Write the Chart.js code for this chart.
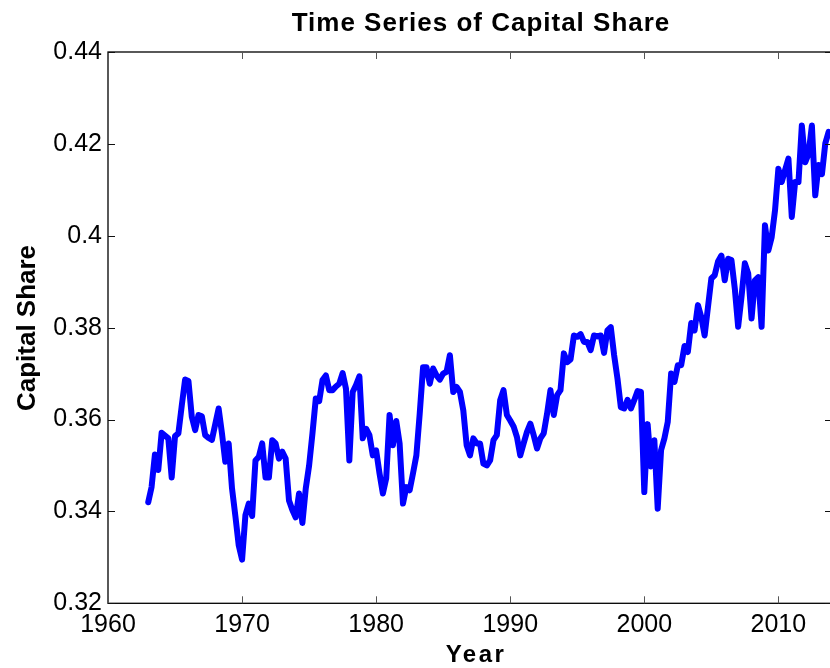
<!DOCTYPE html>
<html>
<head>
<meta charset="utf-8">
<script src="https://cdn.jsdelivr.net/npm/chart.js@4.4.1/dist/chart.umd.min.js"></script>
<style>
  html, body { margin: 0; padding: 0; background: #fff; overflow: hidden; }
  #wrap { position: absolute; left: 0; top: 0; width: 832px; height: 668px; }
</style>
</head>
<body>
<div id="wrap"><canvas id="chart" width="832" height="668"></canvas></div>
<script>
// quarterly capital share, one row per year (Q1..Q4)
const years = [
  1963, 1964, 1965, 1966, 1967, 1968, 1969, 1970, 1971, 1972,
  1973, 1974, 1975, 1976, 1977, 1978, 1979, 1980, 1981, 1982,
  1983, 1984, 1985, 1986, 1987, 1988, 1989, 1990, 1991, 1992,
  1993, 1994, 1995, 1996, 1997, 1998, 1999, 2000, 2001, 2002,
  2003, 2004, 2005, 2006, 2007, 2008, 2009, 2010, 2011, 2012, 2013
];
const quarters = ["Q1", "Q2", "Q3", "Q4"];
const capitalShare = [
  [0.3420, 0.3453, 0.3524, 0.3490], // 1963
  [0.3571, 0.3565, 0.3559, 0.3474],
  [0.3564, 0.3570, 0.3630, 0.3687],
  [0.3684, 0.3606, 0.3577, 0.3610],
  [0.3607, 0.3566, 0.3560, 0.3556],
  [0.3590, 0.3624, 0.3570, 0.3508],
  [0.3548, 0.3450, 0.3390, 0.3326],
  [0.3295, 0.3392, 0.3417, 0.3390], // 1970
  [0.3511, 0.3519, 0.3548, 0.3474],
  [0.3474, 0.3555, 0.3548, 0.3515],
  [0.3530, 0.3515, 0.3424, 0.3403],
  [0.3387, 0.3439, 0.3375, 0.3450],
  [0.3500, 0.3570, 0.3646, 0.3640],
  [0.3686, 0.3696, 0.3664, 0.3664],
  [0.3672, 0.3678, 0.3701, 0.3667],
  [0.3511, 0.3660, 0.3675, 0.3694],
  [0.3559, 0.3580, 0.3566, 0.3522],
  [0.3533, 0.3483, 0.3439, 0.3472], // 1980
  [0.3610, 0.3544, 0.3597, 0.3548],
  [0.3417, 0.3453, 0.3446, 0.3483],
  [0.3522, 0.3613, 0.3714, 0.3714],
  [0.3678, 0.3711, 0.3696, 0.3687],
  [0.3700, 0.3704, 0.3740, 0.3660],
  [0.3671, 0.3660, 0.3620, 0.3544],
  [0.3522, 0.3559, 0.3548, 0.3548],
  [0.3504, 0.3500, 0.3511, 0.3555],
  [0.3566, 0.3642, 0.3664, 0.3610],
  [0.3598, 0.3585, 0.3562, 0.3522], // 1990
  [0.3548, 0.3573, 0.3591, 0.3566],
  [0.3537, 0.3559, 0.3570, 0.3613],
  [0.3664, 0.3610, 0.3653, 0.3664],
  [0.3744, 0.3725, 0.3731, 0.3783],
  [0.3780, 0.3786, 0.3769, 0.3769],
  [0.3751, 0.3783, 0.3781, 0.3783],
  [0.3745, 0.3794, 0.3801, 0.3740],
  [0.3689, 0.3627, 0.3624, 0.3643],
  [0.3624, 0.3642, 0.3662, 0.3660],
  [0.3442, 0.3590, 0.3498, 0.3555], // 2000
  [0.3406, 0.3533, 0.3559, 0.3595],
  [0.3700, 0.3682, 0.3718, 0.3718],
  [0.3760, 0.3747, 0.3810, 0.3794],
  [0.3849, 0.3823, 0.3783, 0.3845],
  [0.3907, 0.3914, 0.3944, 0.3957],
  [0.3903, 0.3950, 0.3947, 0.3885],
  [0.3802, 0.3867, 0.3940, 0.3918],
  [0.3820, 0.3903, 0.3910, 0.3802],
  [0.4023, 0.3968, 0.3997, 0.4055],
  [0.4146, 0.4117, 0.4143, 0.4168], // 2010
  [0.4041, 0.4117, 0.4117, 0.4240],
  [0.4160, 0.4178, 0.4240, 0.4088],
  [0.4154, 0.4134, 0.4201, 0.4226]
];

const xTicks = [1960, 1970, 1980, 1990, 2000, 2010];
const yTicks = [0.32, 0.34, 0.36, 0.38, 0.40, 0.42, 0.44];
const yTickLabels = ["0.32", "0.34", "0.36", "0.38", "0.4", "0.42", "0.44"];

const points = [];
years.forEach((yr, i) => {
  quarters.forEach((q, j) => {
    points.push({ x: yr + j / 4, y: capitalShare[i][j] });
  });
});

const FONT = "'Liberation Sans', Arial, Helvetica, sans-serif";

// matlab-like box with inward ticks, plus titles
const boxPlugin = {
  id: "box",
  afterDraw(chart) {
    const { ctx, chartArea: a, scales } = chart;
    const tl = 7;
    ctx.save();
    ctx.lineWidth = 1.3;
    ctx.strokeStyle = "#000";
    ctx.strokeRect(a.left, a.top, a.right - a.left, a.bottom - a.top);

    ctx.lineWidth = 1;
    ctx.strokeStyle = "#555";
    ctx.beginPath();
    xTicks.forEach(v => {
      const px = Math.round(scales.x.getPixelForValue(v)) + 0.5;
      ctx.moveTo(px, a.bottom); ctx.lineTo(px, a.bottom - tl);
      ctx.moveTo(px, a.top); ctx.lineTo(px, a.top + tl);
    });
    ctx.stroke();

    ctx.strokeStyle = "#111";
    ctx.beginPath();
    yTicks.forEach(v => {
      const py = Math.round(scales.y.getPixelForValue(v)) + 0.5;
      ctx.moveTo(a.left, py); ctx.lineTo(a.left + tl, py);
      ctx.moveTo(a.right, py); ctx.lineTo(a.right - tl, py);
    });
    ctx.stroke();

    ctx.fillStyle = "#000";
    ctx.textAlign = "center";
    ctx.textBaseline = "alphabetic";

    ctx.font = "bold 26px " + FONT;
    ctx.letterSpacing = "1px";
    ctx.fillText("Time Series of Capital Share", 481, 31);

    ctx.font = "bold 24px " + FONT;
    ctx.letterSpacing = "2.5px";
    ctx.fillText("Year", 476, 662);

    ctx.letterSpacing = "0px";
    ctx.font = "bold 26px " + FONT;
    ctx.translate(35, 328);
    ctx.rotate(-Math.PI / 2);
    ctx.fillText("Capital Share", 0, 0);
    ctx.restore();
  }
};

new Chart(document.getElementById("chart").getContext("2d"), {
  type: "line",
  data: {
    datasets: [{
      label: "Capital Share",
      data: points,
      borderColor: "#0000ff",
      borderWidth: 6,
      borderJoinStyle: "round",
      borderCapStyle: "round",
      pointRadius: 0,
      tension: 0,
      fill: false
    }]
  },
  options: {
    responsive: false,
    animation: false,
    devicePixelRatio: 1,
    layout: { padding: { top: 52, right: 0, left: 0, bottom: 0 } },
    plugins: {
      legend: { display: false },
      title: { display: false },
      tooltip: { enabled: false }
    },
    scales: {
      x: {
        type: "linear",
        min: 1960,
        max: 2014,
        afterBuildTicks: s => { s.ticks = xTicks.map(v => ({ value: v })); },
        afterFit: s => { s.height = 64.7; },
        grid: { display: false, drawTicks: false },
        border: { display: false },
        ticks: {
          color: "#000",
          padding: 7,
          maxRotation: 0,
          autoSkip: false,
          font: { family: FONT, size: 25 },
          callback: v => String(v)
        }
      },
      y: {
        min: 0.32,
        max: 0.44,
        afterBuildTicks: s => { s.ticks = yTicks.map(v => ({ value: v })); },
        afterFit: s => { s.width = 108; },
        grid: { display: false, drawTicks: false },
        border: { display: false },
        ticks: {
          color: "#000",
          padding: 6,
          font: { family: FONT, size: 25 },
          callback: (v, i) => yTickLabels[i]
        }
      }
    }
  },
  plugins: [boxPlugin]
});
</script>
</body>
</html>
